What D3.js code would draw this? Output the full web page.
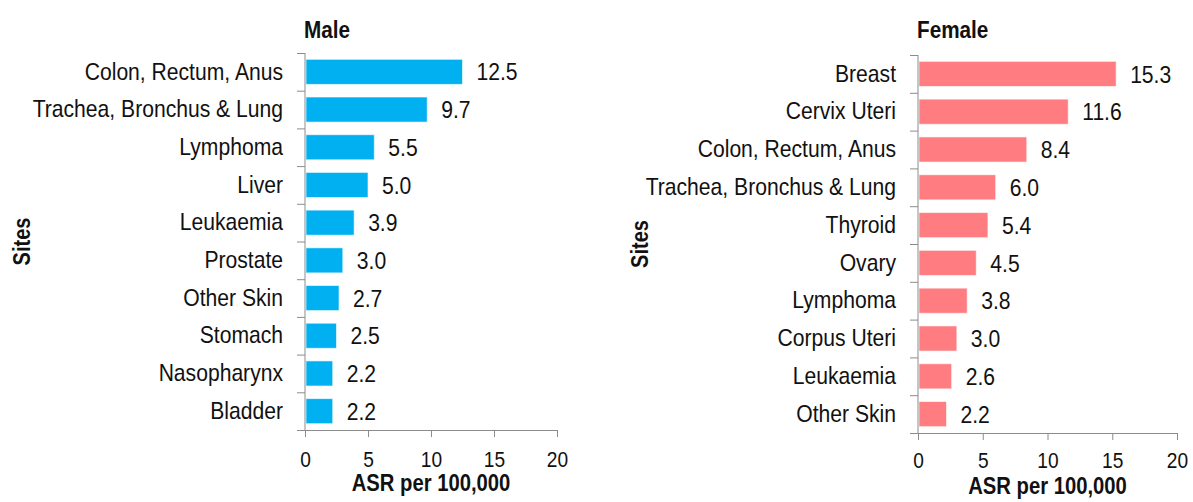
<!DOCTYPE html>
<html lang="en">
<head>
<meta charset="UTF-8">
<title>ASR by site</title>
<script src="https://cdn.jsdelivr.net/npm/d3@7/dist/d3.min.js"></script>
<style>
  body { margin: 0; background: #fff; }
  svg text { font-family: "Liberation Sans", Arial, sans-serif; fill: #111; }
  .domain, .tick line { stroke: #8c8c8c; }
</style>
</head>
<body>
<script>
  // data
  const maleSites = ["Colon, Rectum, Anus", "Trachea, Bronchus & Lung", "Lymphoma", "Liver",
    "Leukaemia", "Prostate", "Other Skin", "Stomach", "Nasopharynx", "Bladder"];
  const maleASR = [12.5, 9.7, 5.5, 5.0, 3.9, 3.0, 2.7, 2.5, 2.2, 2.2];

  const femaleSites = ["Breast", "Cervix Uteri", "Colon, Rectum, Anus", "Trachea, Bronchus & Lung",
    "Thyroid", "Ovary", "Lymphoma", "Corpus Uteri", "Leukaemia", "Other Skin"];
  const femaleASR = [15.3, 11.6, 8.4, 6.0, 5.4, 4.5, 3.8, 3.0, 2.6, 2.2];

  const xTicks = [0, 5, 10, 15, 20];

  const W = 1193, H = 502;
  const svg = d3.select("body").append("svg").attr("width", W).attr("height", H);

  // the original text is a bit condensed, squeeze it horizontally around its anchor
  function squeeze(sel, k) {
    sel.each(function () {
      const t = d3.select(this);
      const x = +t.attr("x") || 0;
      t.attr("transform", `translate(${x * (1 - k)},0) scale(${k},1)`);
    });
  }

  function panel(opts) {
    const { sites, values, title, color, x0, x1, top, bottom, sitesX, tickPad, asrY } = opts;
    const g = svg.append("g");

    const x = d3.scaleLinear().domain([0, 20]).range([x0, x1]);
    const y = d3.scaleBand().domain(sites).range([top, bottom]).paddingInner(0.335).paddingOuter(0.1675);
    const yEdge = d3.scaleLinear().domain([0, sites.length]).range([top, bottom]);

    // bars
    g.selectAll(".bar").data(values).enter().append("rect")
      .attr("x", x(0) + 1)
      .attr("y", (d, i) => y(sites[i]))
      .attr("width", d => x(d) - x(0) - 1)
      .attr("height", y.bandwidth())
      .attr("fill", color)
      .attr("stroke", "rgba(255,255,255,0.6)")
      .attr("stroke-width", 1);

    // value labels
    g.selectAll(".val").data(values).enter().append("text")
      .attr("x", d => x(d) + 14)
      .attr("y", (d, i) => y(sites[i]) + y.bandwidth() / 2)
      .attr("dy", "0.36em")
      .style("font-size", "24px")
      .text(d => d.toFixed(1))
      .call(squeeze, 0.88);

    // category ticks at band edges
    g.append("g")
      .attr("transform", `translate(${x0},0)`)
      .call(d3.axisLeft(yEdge).tickValues(d3.range(sites.length + 1)).tickSize(8).tickFormat(""))
      .call(a => a.select(".domain").attr("d", `M0,${top}V${bottom}`));

    // category labels
    g.append("g")
      .attr("transform", `translate(${x0},0)`)
      .call(d3.axisLeft(y).tickSize(0).tickPadding(22))
      .call(a => a.select(".domain").remove())
      .selectAll("text").style("font-size", "24px").attr("fill", "#111")
      .call(squeeze, 0.88);

    // x axis
    g.append("g")
      .attr("transform", `translate(0,${bottom})`)
      .call(d3.axisBottom(x).tickValues(xTicks).tickSize(7).tickPadding(tickPad).tickSizeOuter(0))
      .selectAll("text").style("font-size", "22px").attr("fill", "#111")
      .call(squeeze, 0.87);

    g.append("text")
      .attr("x", (x0 + x1) / 2).attr("y", asrY)
      .attr("text-anchor", "middle")
      .style("font-size", "23px").style("font-weight", "bold")
      .text("ASR per 100,000")
      .call(squeeze, 0.88);

    g.append("text")
      .attr("transform", `translate(${sitesX},${(top + bottom) / 2}) rotate(-90) scale(0.87,1)`)
      .attr("text-anchor", "middle")
      .style("font-size", "23px").style("font-weight", "bold")
      .text("Sites");

    g.append("text")
      .attr("x", x0 - 1).attr("y", 38)
      .style("font-size", "23px").style("font-weight", "bold")
      .text(title)
      .call(squeeze, 0.9);
  }

  panel({ sites: maleSites, values: maleASR, title: "Male", color: "#00b0f0",
    x0: 305, x1: 557, top: 53, bottom: 430, sitesX: 30, tickPad: 14, asrY: 491 });
  panel({ sites: femaleSites, values: femaleASR, title: "Female", color: "#ff7c80",
    x0: 918, x1: 1177, top: 55, bottom: 433, sitesX: 648, tickPad: 12, asrY: 494 });
</script>
</body>
</html>
